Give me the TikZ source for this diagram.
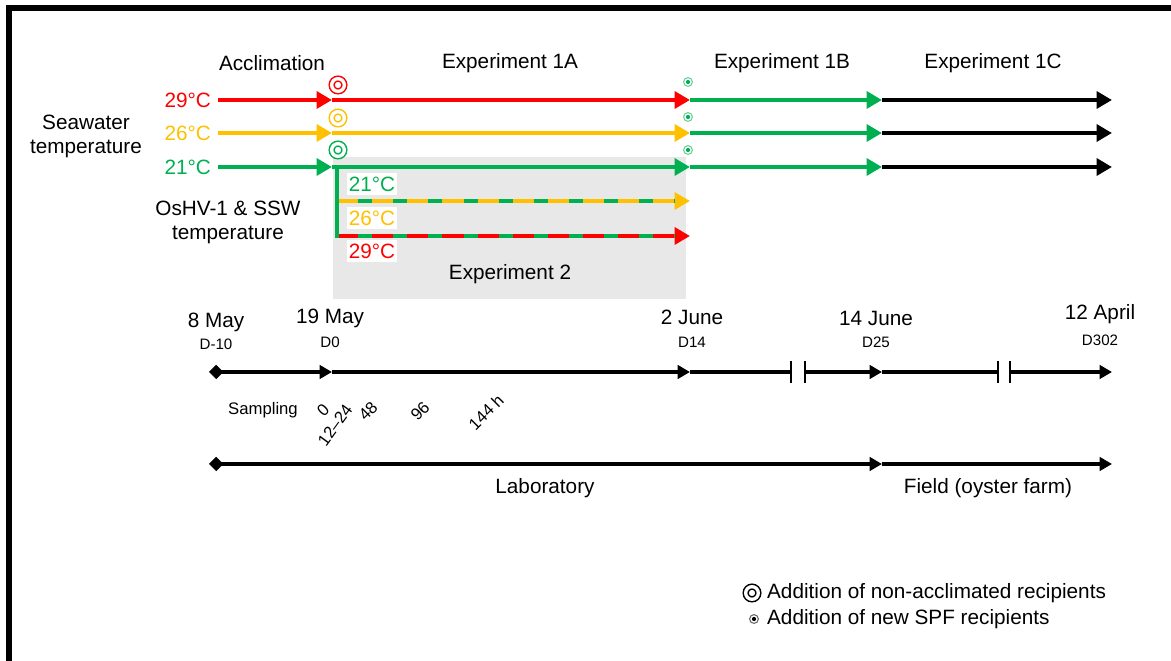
\documentclass[tikz,border=0pt]{standalone}
\usepackage{fontspec}
\setmainfont{Liberation Sans}
\usetikzlibrary{arrows.meta}
\usetikzlibrary{positioning}
\definecolor{hotred}{HTML}{FF0000}
\definecolor{midorange}{HTML}{FFC000}
\definecolor{coolgreen}{HTML}{00B050}
\definecolor{boxgray}{HTML}{E8E8E8}

\begin{document}
\begin{tikzpicture}[x=0.02cm, y=-0.02cm,
lab/.style={font=\fontsize{11.8}{13.6}\selectfont, inner sep=1pt},
daylab/.style={font=\fontsize{8.6}{10}\selectfont, inner sep=1pt},
samplab/.style={font=\fontsize{9.5}{11}\selectfont, inner sep=0pt},
templine/.style={line width=2.8pt, -{Triangle[length=8.8pt,width=9.6pt]}},
timeline/.style={line width=2.3pt, -{Triangle[length=7pt,width=7.6pt]}},
startdiam/.style={{Diamond[length=8.2pt,width=8.2pt]}-{Triangle[length=7pt,width=7.6pt]}},
bar/.style={line width=1.6pt},
boxlab/.style={lab, fill=white, inner xsep=1.2pt, inner ysep=2pt},
ringnode/.style={circle, draw, double=white, line width=0.85pt, double distance=1.9pt, minimum size=7.2pt, inner sep=0pt},
dotnode/.style={circle, draw=#1!60, line width=0.6pt, minimum size=5pt, inner sep=0pt,
  path picture={\fill[#1] (path picture bounding box.center) circle (1.2pt);}},
]
\useasboundingbox (0,0) rectangle (1171,661);
\draw[line width=3pt] (9,661) -- (9,8) -- (1171,8);

%Box
\node[fill=boxgray, inner sep=0pt, minimum width=7.06cm, minimum height=2.84cm, anchor=north west] (exptwo) at (333,157) {};
\node[lab] (exptwolab) at (510,274) {Experiment 2};

%Nodes
\node[lab] (accl) at (272,63) {Acclimation};
\node[lab] (exa) at (510,63) {Experiment 1A};
\node[lab] (exb) at (782,63) {Experiment 1B};
\node[lab] (exc) at (993,63) {Experiment 1C};
\node[lab, align=center] (seawater) at (86,136) {Seawater\\temperature};
\node[lab, text=hotred, anchor=east] (lab29) at (213,100) {29°C};
\node[lab, text=midorange, anchor=east] (lab26) at (213,133) {26°C};
\node[lab, text=coolgreen, anchor=east] (lab21) at (213,167) {21°C};
\node[lab, align=center] (oshv) at (228,222) {OsHV-1 \& SSW\\temperature};

\coordinate (r0) at (218,100); \coordinate (r1) at (332,100); \coordinate (r2) at (690,100);
\coordinate (r3) at (882,100); \coordinate (r4) at (1112,100);
\coordinate (o0) at (218,133); \coordinate (o1) at (332,133); \coordinate (o2) at (690,133);
\coordinate (o3) at (882,133); \coordinate (o4) at (1112,133);
\coordinate (g0) at (218,167); \coordinate (g1) at (332,167); \coordinate (g2) at (690,167);
\coordinate (g3) at (882,167); \coordinate (g4) at (1112,167);

%Lines
\foreach \row/\col in {r/hotred, o/midorange, g/coolgreen}{
  \draw[templine, \col] (\row0) -- (\row1);
  \draw[templine, \col] (\row1) -- (\row2);
  \draw[templine, coolgreen] (\row2) -- (\row3);
  \draw[templine, black] (\row3) -- (\row4);
}

%Experiment 2
\coordinate (vtop) at (337,166); \coordinate (vbot) at (337,238);
\coordinate (da0) at (337,201); \coordinate (da1) at (690,201);
\coordinate (db0) at (337,236); \coordinate (db1) at (690,236);
\draw[templine, midorange] (da0) -- (da1);
\draw[line width=2.8pt, coolgreen, dash pattern=on 8pt off 12pt, dash phase=8pt, shorten >=8.8pt] (da0) -- (da1);
\draw[templine, hotred] (db0) -- (db1);
\draw[line width=2.8pt, coolgreen, dash pattern=on 8pt off 12pt, dash phase=8pt, shorten >=8.8pt] (db0) -- (db1);
\draw[line width=2.8pt, coolgreen] (vtop) -- (vbot);
\node[boxlab, text=coolgreen] (in21) at (372,184) {21°C};
\node[boxlab, text=midorange] (in26) at (372,218) {26°C};
\node[boxlab, text=hotred] (in29) at (372,251) {29°C};

%Symbols
\node[ringnode, draw=hotred] (ringr) at (338,85) {};
\node[ringnode, draw=midorange] (ringo) at (338,118) {};
\node[ringnode, draw=coolgreen] (ringg) at (338,150) {};
\node[dotnode=coolgreen] (dotr) at (688,82) {};
\node[dotnode=coolgreen] (doto) at (688,117) {};
\node[dotnode=coolgreen] (dotg) at (688,150) {};

%Timeline
\node[lab] (may8) at (216,322) {8 May};
\node[daylab] (dm10) at (216,344) {D-10};
\node[lab] (may19) at (330,318) {19 May};
\node[daylab] (d0) at (330,342) {D0};
\node[lab] (jun2) at (692,317) {2 June};
\node[daylab] (d14) at (692,342) {D14};
\node[lab] (jun14) at (876,318) {14 June};
\node[daylab] (d25) at (876,342) {D25};
\node[lab] (apr12) at (1100,314) {12 April};
\node[daylab] (d302) at (1100,340) {D302};

\coordinate (t0) at (209,372); \coordinate (t1) at (332,372); \coordinate (t2) at (690,372);
\coordinate (b1) at (791,372); \coordinate (b2) at (805,372); \coordinate (t3) at (882,372);
\coordinate (b3) at (998,372); \coordinate (b4) at (1010,372); \coordinate (t4) at (1112,372);
\draw[timeline, startdiam] (t0) -- (t1);
\draw[timeline] (t1) -- (t2);
\draw[line width=2.3pt] (t2) -- (b1);
\draw[timeline] (b2) -- (t3);
\draw[line width=2.3pt] (t3) -- (b3);
\draw[timeline] (b4) -- (t4);
\foreach \b in {b1,b2,b3,b4}
  \draw[bar] (\b) ++(0,-11) -- ++(0,22);

%Sampling
\node[samplab] (samp) at (263,410) {Sampling};
\node[samplab, rotate=45] (h0) at (323,410) {0};
\node[samplab, rotate=54] (h12) at (335,425) {12–24};
\node[samplab, rotate=45] (h48) at (368,411) {48};
\node[samplab, rotate=45] (h96) at (420,411) {96};
\node[samplab, rotate=45] (h144) at (486,412) {144 h};

%Places
\coordinate (l0) at (209,464); \coordinate (l1) at (882,464); \coordinate (l2) at (1112,464);
\draw[timeline, startdiam] (l0) -- (l1);
\draw[timeline] (l1) -- (l2);
\node[lab] (lab) at (545,488) {Laboratory};
\node[lab] (field) at (988,488) {Field (oyster farm)};

%Legend
\node[ringnode, draw=black] (legring) at (752,593) {};
\node[lab, right=3.4pt of legring] (legone) {Addition of non-acclimated recipients};
\node[dotnode=black] (legdot) at (754,619) {};
\node[lab, anchor=west] (legtwo) at (legone.west |- legdot) {Addition of new SPF recipients};
\end{tikzpicture}
\end{document}
